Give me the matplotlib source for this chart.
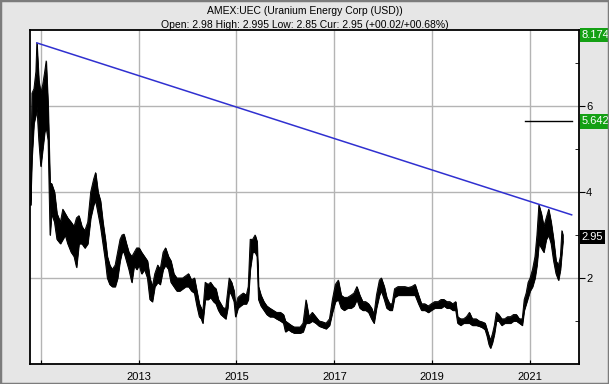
import numpy as np
import matplotlib.pyplot as plt
import matplotlib.transforms as mtransforms
from matplotlib.patches import Rectangle

plt.rcParams['font.family'] = ['Liberation Sans', 'DejaVu Sans']

# --------------------------------------------------------------------------------------------------
# price readings (decimal year, low, high)

dates = [2010.79, 2010.82, 2010.86, 2010.90, 2010.92, 2010.96, 2011.00, 2011.04, 2011.08, 2011.11,
         2011.15, 2011.18, 2011.19, 2011.22, 2011.28, 2011.33, 2011.40, 2011.45, 2011.50, 2011.55,
         2011.62, 2011.68, 2011.73, 2011.78, 2011.84, 2011.90, 2011.96, 2012.02, 2012.08, 2012.12,
         2012.17, 2012.22, 2012.27, 2012.32, 2012.36, 2012.41, 2012.46, 2012.52, 2012.57, 2012.62,
         2012.66, 2012.70, 2012.75, 2012.80, 2012.86, 2012.91, 2012.96, 2013.01, 2013.06, 2013.12,
         2013.18, 2013.23, 2013.28, 2013.33, 2013.39, 2013.44, 2013.50, 2013.55, 2013.61, 2013.66,
         2013.72, 2013.78, 2013.84, 2013.90, 2013.96, 2014.02, 2014.08, 2014.14, 2014.19, 2014.24,
         2014.28, 2014.31, 2014.36, 2014.42, 2014.47, 2014.53, 2014.58, 2014.63, 2014.68, 2014.73,
         2014.78, 2014.82, 2014.85, 2014.90, 2014.95, 2014.98, 2015.03, 2015.08, 2015.14, 2015.20,
         2015.24, 2015.28, 2015.33, 2015.38, 2015.42, 2015.45, 2015.50, 2015.56, 2015.62, 2015.68,
         2015.75, 2015.82, 2015.90, 2015.96, 2016.00, 2016.06, 2016.12, 2016.18, 2016.24, 2016.30,
         2016.36, 2016.42, 2016.48, 2016.55, 2016.62, 2016.69, 2016.76, 2016.83, 2016.90, 2016.96,
         2017.02, 2017.08, 2017.14, 2017.20, 2017.27, 2017.34, 2017.40, 2017.46, 2017.52, 2017.58,
         2017.64, 2017.70, 2017.76, 2017.81, 2017.86, 2017.92, 2017.96, 2018.02, 2018.07, 2018.13,
         2018.18, 2018.23, 2018.30, 2018.37, 2018.44, 2018.51, 2018.58, 2018.65, 2018.72, 2018.78,
         2018.85, 2018.92, 2018.98, 2019.05, 2019.12, 2019.18, 2019.24, 2019.30, 2019.36, 2019.42,
         2019.48, 2019.52, 2019.58, 2019.64, 2019.70, 2019.76, 2019.82, 2019.90, 2019.96, 2020.02,
         2020.08, 2020.12, 2020.16, 2020.19, 2020.23, 2020.27, 2020.31, 2020.36, 2020.42, 2020.48,
         2020.54, 2020.60, 2020.66, 2020.72, 2020.78, 2020.84, 2020.88, 2020.92, 2020.96, 2021.00,
         2021.05, 2021.10, 2021.14, 2021.18, 2021.23, 2021.28, 2021.33, 2021.38, 2021.43, 2021.48,
         2021.53, 2021.58, 2021.62, 2021.65, 2021.67]

lows = [3.70, 4.80, 5.60, 5.80, 6.00, 5.20, 4.60, 5.00, 5.40, 5.50,
        5.20, 3.60, 3.00, 3.50, 3.30, 2.90, 2.80, 2.90, 3.00, 2.80,
        2.60, 2.50, 2.25, 2.80, 2.80, 2.70, 2.80, 3.40, 3.70, 3.80,
        3.50, 3.20, 2.80, 2.40, 2.00, 1.85, 1.80, 1.80, 2.00, 2.40,
        2.60, 2.60, 2.40, 2.20, 1.90, 2.30, 2.20, 2.30, 2.10, 2.20,
        2.00, 1.50, 1.45, 1.80, 1.90, 1.85, 2.20, 2.30, 2.20, 1.90,
        1.80, 1.70, 1.70, 1.75, 1.80, 1.80, 1.70, 1.65, 1.35, 1.10,
        1.05, 0.95, 1.50, 1.50, 1.55, 1.45, 1.40, 1.25, 1.15, 1.10,
        1.05, 1.30, 1.70, 1.60, 1.45, 1.10, 1.30, 1.35, 1.40, 1.40,
        1.50, 2.20, 2.60, 2.60, 2.50, 1.50, 1.35, 1.25, 1.15, 1.10,
        1.10, 1.05, 1.00, 0.95, 0.75, 0.80, 0.75, 0.72, 0.72, 0.72,
        0.75, 0.95, 0.95, 1.00, 0.95, 0.88, 0.85, 0.82, 0.90, 1.20,
        1.45, 1.50, 1.30, 1.25, 1.30, 1.30, 1.35, 1.50, 1.30, 1.25,
        1.25, 1.20, 1.05, 0.95, 1.30, 1.60, 1.70, 1.50, 1.30, 1.25,
        1.25, 1.55, 1.60, 1.60, 1.60, 1.60, 1.60, 1.60, 1.40, 1.25,
        1.25, 1.20, 1.25, 1.30, 1.30, 1.30, 1.35, 1.30, 1.30, 1.25,
        1.25, 0.95, 0.90, 0.95, 0.95, 0.95, 0.90, 0.90, 0.88, 0.85,
        0.80, 0.65, 0.45, 0.37, 0.50, 0.70, 1.00, 1.00, 0.90, 0.95,
        0.95, 0.95, 1.00, 1.00, 0.95, 0.90, 1.25, 1.40, 1.55, 1.70,
        1.80, 2.00, 2.30, 2.80, 2.70, 2.60, 2.90, 3.00, 2.80, 2.40,
        2.10, 1.95, 2.20, 2.60, 2.85]

highs = [4.00, 6.30, 6.40, 6.80, 7.47, 6.60, 6.30, 6.50, 6.80, 7.05,
         6.00, 4.60, 4.20, 4.20, 4.00, 3.50, 3.30, 3.60, 3.50, 3.40,
         3.30, 3.20, 3.40, 3.45, 3.20, 3.10, 3.30, 4.00, 4.30, 4.45,
         4.00, 3.80, 3.30, 2.90, 2.50, 2.30, 2.20, 2.30, 2.60, 2.90,
         3.00, 3.02, 2.80, 2.60, 2.50, 2.60, 2.70, 2.70, 2.60, 2.50,
         2.40, 2.00, 1.80, 2.10, 2.30, 2.20, 2.60, 2.70, 2.50, 2.40,
         2.10, 2.00, 2.00, 2.00, 2.05, 2.10, 1.95, 2.00, 1.70, 1.40,
         1.30, 1.20, 1.90, 1.85, 1.90, 1.80, 1.75, 1.50, 1.40, 1.30,
         1.30, 1.70, 2.00, 1.90, 1.70, 1.35, 1.55, 1.60, 1.65, 1.60,
         1.80, 2.90, 2.90, 3.00, 2.85, 1.80, 1.60, 1.45, 1.35, 1.30,
         1.25, 1.20, 1.20, 1.15, 1.00, 0.95, 0.90, 0.86, 0.86, 0.86,
         0.95, 1.49, 1.10, 1.20, 1.10, 1.00, 0.98, 0.95, 1.05, 1.50,
         1.85, 1.95, 1.60, 1.55, 1.55, 1.60, 1.65, 1.80, 1.60, 1.45,
         1.45, 1.40, 1.30, 1.15, 1.60, 1.95, 2.00, 1.80, 1.55, 1.40,
         1.40, 1.75, 1.80, 1.80, 1.80, 1.78, 1.80, 1.85, 1.60, 1.40,
         1.40, 1.35, 1.40, 1.45, 1.45, 1.50, 1.50, 1.45, 1.45, 1.40,
         1.45, 1.10, 1.05, 1.05, 1.10, 1.20, 1.05, 1.05, 1.00, 0.98,
         0.95, 0.80, 0.65, 0.55, 0.70, 0.90, 1.20, 1.15, 1.05, 1.05,
         1.10, 1.10, 1.15, 1.15, 1.05, 1.05, 1.50, 1.65, 1.90, 2.00,
         2.20, 2.50, 3.00, 3.70, 3.50, 3.20, 3.40, 3.60, 3.30, 2.90,
         2.40, 2.30, 2.50, 3.10, 3.00]

trend_dates = [2010.92, 2021.85]
trend_vals = [7.47, 3.47]

title = 'AMEX:UEC (Uranium Energy Corp (USD))'
subtitle = 'Open: 2.98 High: 2.995 Low: 2.85 Cur: 2.95 (+00.02/+00.68%)'

grid_years = [2011, 2013, 2015, 2017, 2019, 2021]
year_labels = ['', '2013', '2015', '2017', '2019', '2021']
y_major = [2, 4, 6]
y_minor = [1, 3, 5, 7]

target_top = 8.174
target_mid = 5.642
target_mid_start = 2020.9
current = 2.95

# --------------------------------------------------------------------------------------------------

fig = plt.figure(figsize=(6.09, 3.84), dpi=100, facecolor='#e6e6e6')
fig.patches.append(Rectangle((0, 0), 1, 1, transform=fig.transFigure, fill=False,
                             ec='#7c7c7c', lw=2.5, zorder=0))

ax = fig.add_axes([30/609, 20/384, 549/609, 334/384])
ax.set_facecolor('white')

d = np.array(dates)
ax.fill_between(d, lows, highs, color='black', lw=0.6, zorder=3)
ax.plot(d, lows, c='black', lw=0.7, zorder=3)
ax.plot(d, highs, c='black', lw=0.7, zorder=3)

ax.plot(trend_dates, trend_vals, c='#3030d0', lw=1.1, zorder=4)
ax.plot([target_mid_start, 2021.85], [target_mid, target_mid], c='black', lw=1, zorder=4)

ax.set_xlim(2010.78, 2021.85)
ax.set_ylim(0, 7.77)

ax.set_xticks(grid_years)
ax.set_xticklabels(year_labels)
ax.set_xticks([2022], minor=True)
ax.set_yticks(y_major)
ax.set_yticks(y_minor, minor=True)
ax.grid(True, which='major', c='#b4b4b4', lw=1, zorder=1)

ax.yaxis.tick_right()
ax.tick_params(axis='x', which='both', direction='in', length=3, labelsize=8,
               colors='black', pad=6)
ax.tick_params(axis='y', which='major', direction='out', length=4, labelsize=8, pad=1)
ax.tick_params(axis='y', which='minor', direction='in', length=3)

for axis in ['top', 'bottom', 'left', 'right']:
    ax.spines[axis].set_linewidth(1.3)

# value tags on the right
trans = mtransforms.blended_transform_factory(ax.transAxes, ax.transData)
ax.text(1.005, 1.0, f'{target_top:.3f}', transform=ax.transAxes, ha='left', va='top',
        fontsize=8, color='white',
        bbox=dict(boxstyle='square,pad=0.2', fc='#14a014', ec='none'))
ax.text(1.005, target_mid, f'{target_mid:.3f}', transform=trans, ha='left', va='center',
        fontsize=8, color='white',
        bbox=dict(boxstyle='square,pad=0.2', fc='#14a014', ec='none'))
ax.text(1.005, current, f'{current:.2f}', transform=trans, ha='left', va='center',
        fontsize=8, color='white',
        bbox=dict(boxstyle='square,pad=0.2', fc='black', ec='none'))

fig.text(0.5, 1 - 11/384, title, ha='center', va='center', fontsize=7.5)
fig.text(0.5, 1 - 25/384, subtitle, ha='center', va='center', fontsize=7.5)

plt.savefig('out.png', dpi=100, facecolor=fig.get_facecolor())
plt.close()
